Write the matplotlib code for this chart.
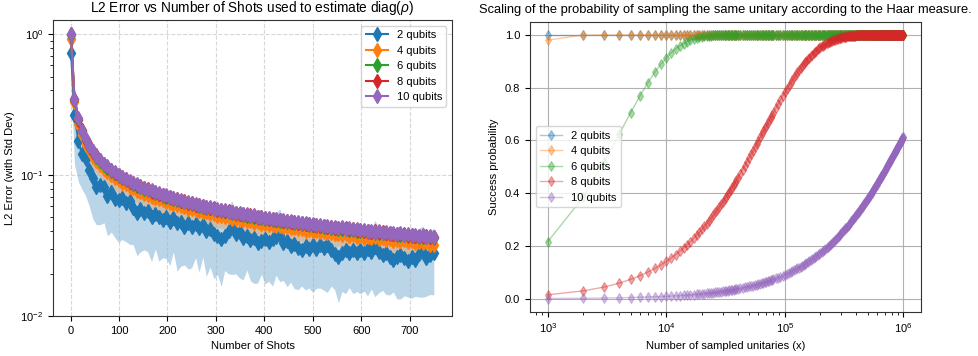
import numpy as np
import matplotlib.pyplot as plt

plt.rcParams['font.family'] = ['Liberation Sans', 'DejaVu Sans']
plt.rcParams['mathtext.fontset'] = 'custom'
plt.rcParams['mathtext.rm'] = 'Liberation Sans'
plt.rcParams['mathtext.it'] = 'Liberation Sans:italic'
plt.rcParams['font.size'] = 8

# ---- left panel: L2 error vs number of shots ----
shots = [1, 8, 16, 23, 31, 38, 46, 53, 61, 69,
         76, 84, 91, 99, 106, 114, 122, 129, 137, 144,
         152, 159, 167, 175, 182, 190, 197, 205, 212, 220,
         227, 235, 243, 250, 258, 265, 273, 280, 288, 296,
         303, 311, 318, 326, 333, 341, 349, 356, 364, 371,
         379, 386, 394, 401, 409, 417, 424, 432, 439, 447,
         454, 462, 470, 477, 485, 492, 500, 507, 515, 523,
         530, 538, 545, 553, 560, 568, 575, 583, 591, 598,
         606, 613, 621, 628, 636, 644, 651, 659, 666, 674,
         681, 689, 697, 704, 712, 719, 727, 734, 742, 750]

err_2q = [0.730, 0.2687, 0.1750, 0.1418, 0.1293, 0.1087, 0.0958, 0.0824, 0.0845, 0.0819,
          0.0711, 0.0764, 0.0671, 0.0663, 0.0689, 0.0637, 0.0652, 0.0581, 0.0538, 0.0575,
          0.0535, 0.0555, 0.0503, 0.0529, 0.0504, 0.0479, 0.0506, 0.0468, 0.0495, 0.0458,
          0.0465, 0.0430, 0.0455, 0.0430, 0.0449, 0.0424, 0.0442, 0.0401, 0.0412, 0.0383,
          0.0367, 0.0352, 0.0370, 0.0399, 0.0427, 0.0379, 0.0396, 0.0360, 0.0372, 0.0348,
          0.0360, 0.0331, 0.0338, 0.0349, 0.0336, 0.0353, 0.0365, 0.0375, 0.0329, 0.0341,
          0.0314, 0.0326, 0.0304, 0.0293, 0.0313, 0.0298, 0.0317, 0.0297, 0.0318, 0.0302,
          0.0317, 0.0293, 0.0274, 0.0264, 0.0279, 0.0294, 0.0279, 0.0294, 0.0279, 0.0294,
          0.0280, 0.0299, 0.0285, 0.0307, 0.0286, 0.0272, 0.0282, 0.0261, 0.0248, 0.0262,
          0.0272, 0.0259, 0.0246, 0.0264, 0.0248, 0.0276, 0.0286, 0.0258, 0.0272, 0.0281]
std_2q = [0.300, 0.150, 0.085, 0.062, 0.058, 0.048, 0.047, 0.038, 0.040, 0.036,
          0.034, 0.037, 0.031, 0.033, 0.034, 0.030, 0.033, 0.026, 0.027, 0.029,
          0.024, 0.027, 0.026, 0.023, 0.026, 0.022, 0.025, 0.024, 0.021, 0.025,
          0.024, 0.020, 0.024, 0.021, 0.019, 0.022, 0.018, 0.021, 0.019, 0.020,
          0.017, 0.019, 0.016, 0.020, 0.023, 0.018, 0.021, 0.018, 0.016, 0.017,
          0.019, 0.016, 0.014, 0.018, 0.016, 0.019, 0.017, 0.020, 0.015, 0.018,
          0.014, 0.017, 0.015, 0.013, 0.016, 0.014, 0.017, 0.014, 0.016, 0.015,
          0.017, 0.013, 0.012, 0.014, 0.013, 0.015, 0.012, 0.015, 0.013, 0.015,
          0.013, 0.016, 0.013, 0.017, 0.014, 0.012, 0.014, 0.012, 0.010, 0.013,
          0.014, 0.012, 0.011, 0.013, 0.011, 0.014, 0.015, 0.012, 0.013, 0.014]

err_4q = [0.917, 0.3280, 0.2320, 0.1920, 0.1640, 0.1500, 0.1350, 0.1265, 0.1170, 0.1110,
          0.1045, 0.1002, 0.0958, 0.0918, 0.0884, 0.0860, 0.0822, 0.0805, 0.0776, 0.0762,
          0.0737, 0.0726, 0.0702, 0.0690, 0.0671, 0.0662, 0.0644, 0.0637, 0.0620, 0.0614,
          0.0599, 0.0594, 0.0578, 0.0575, 0.0561, 0.0558, 0.0544, 0.0543, 0.0529, 0.0528,
          0.0515, 0.0514, 0.0503, 0.0502, 0.0491, 0.0491, 0.0480, 0.0480, 0.0469, 0.0470,
          0.0460, 0.0461, 0.0451, 0.0452, 0.0441, 0.0444, 0.0434, 0.0436, 0.0425, 0.0428,
          0.0418, 0.0421, 0.0411, 0.0414, 0.0404, 0.0408, 0.0398, 0.0402, 0.0392, 0.0395,
          0.0386, 0.0390, 0.0380, 0.0384, 0.0376, 0.0380, 0.0370, 0.0374, 0.0365, 0.0370,
          0.0360, 0.0365, 0.0356, 0.0361, 0.0352, 0.0356, 0.0347, 0.0353, 0.0343, 0.0348,
          0.0339, 0.0344, 0.0335, 0.0341, 0.0331, 0.0337, 0.0328, 0.0334, 0.0321, 0.0319]
std_4q = [0.150, 0.062, 0.042, 0.035, 0.030, 0.027, 0.025, 0.023, 0.021, 0.020,
          0.019, 0.018, 0.017, 0.017, 0.016, 0.015, 0.015, 0.014, 0.014, 0.014,
          0.0130, 0.0130, 0.0125, 0.0124, 0.0120, 0.0119, 0.0115, 0.0114, 0.0111, 0.0110,
          0.0108, 0.0107, 0.0104, 0.0103, 0.0101, 0.0100, 0.0098, 0.0098, 0.0095, 0.0095,
          0.0093, 0.0093, 0.0090, 0.0090, 0.0088, 0.0088, 0.0086, 0.0086, 0.0084, 0.0085,
          0.0083, 0.0083, 0.0081, 0.0081, 0.0079, 0.0080, 0.0078, 0.0078, 0.0077, 0.0077,
          0.0075, 0.0076, 0.0074, 0.0075, 0.0073, 0.0073, 0.0072, 0.0072, 0.0071, 0.0071,
          0.0070, 0.0070, 0.0068, 0.0069, 0.0068, 0.0068, 0.0067, 0.0067, 0.0066, 0.0067,
          0.0065, 0.0066, 0.0064, 0.0065, 0.0063, 0.0064, 0.0062, 0.0064, 0.0062, 0.0063,
          0.0061, 0.0062, 0.0060, 0.0061, 0.0060, 0.0061, 0.0059, 0.0060, 0.0058, 0.0057]

err_6q = [0.985, 0.3420, 0.2460, 0.2040, 0.1770, 0.1590, 0.1450, 0.1350, 0.1262, 0.1180,
          0.1128, 0.1071, 0.1031, 0.0986, 0.0955, 0.0920, 0.0890, 0.0864, 0.0840, 0.0817,
          0.0798, 0.0778, 0.0762, 0.0741, 0.0729, 0.0711, 0.0701, 0.0684, 0.0676, 0.0661,
          0.0653, 0.0639, 0.0631, 0.0620, 0.0613, 0.0602, 0.0595, 0.0586, 0.0579, 0.0570,
          0.0565, 0.0556, 0.0552, 0.0543, 0.0539, 0.0531, 0.0527, 0.0520, 0.0516, 0.0509,
          0.0506, 0.0499, 0.0496, 0.0489, 0.0486, 0.0480, 0.0478, 0.0472, 0.0469, 0.0464,
          0.0461, 0.0456, 0.0454, 0.0449, 0.0447, 0.0442, 0.0440, 0.0435, 0.0434, 0.0428,
          0.0427, 0.0422, 0.0421, 0.0417, 0.0416, 0.0412, 0.0410, 0.0406, 0.0404, 0.0401,
          0.0399, 0.0396, 0.0394, 0.0391, 0.0390, 0.0386, 0.0385, 0.0382, 0.0381, 0.0377,
          0.0376, 0.0373, 0.0372, 0.0369, 0.0368, 0.0366, 0.0364, 0.0362, 0.0361, 0.0358]
std_6q = [0.100, 0.036, 0.025, 0.021, 0.018, 0.016, 0.015, 0.014, 0.013, 0.012,
          0.0115, 0.0110, 0.0105, 0.0100, 0.0097, 0.0094, 0.0091, 0.0088, 0.0086, 0.0083,
          0.0081, 0.0079, 0.0077, 0.0076, 0.0074, 0.0073, 0.0071, 0.0070, 0.0069, 0.0067,
          0.0066, 0.0065, 0.0064, 0.0063, 0.0062, 0.0061, 0.0060, 0.0060, 0.0059, 0.0058,
          0.0057, 0.0057, 0.0056, 0.0055, 0.0055, 0.0054, 0.0054, 0.0053, 0.0052, 0.0052,
          0.0051, 0.0051, 0.0050, 0.0050, 0.0049, 0.0049, 0.0049, 0.0048, 0.0048, 0.0047,
          0.0047, 0.0046, 0.0046, 0.0046, 0.0045, 0.0045, 0.0045, 0.0044, 0.0044, 0.0044,
          0.0043, 0.0043, 0.0043, 0.0042, 0.0042, 0.0042, 0.0042, 0.0041, 0.0041, 0.0041,
          0.0041, 0.0040, 0.0040, 0.0040, 0.0040, 0.0039, 0.0039, 0.0039, 0.0039, 0.0038,
          0.0038, 0.0038, 0.0038, 0.0038, 0.0037, 0.0037, 0.0037, 0.0037, 0.0037, 0.0036]

err_8q = [0.998, 0.3470, 0.2490, 0.2090, 0.1785, 0.1625, 0.1465, 0.1378, 0.1272, 0.1205,
          0.1138, 0.1093, 0.1040, 0.1004, 0.0965, 0.0938, 0.0899, 0.0881, 0.0848, 0.0833,
          0.0805, 0.0792, 0.0768, 0.0756, 0.0735, 0.0725, 0.0707, 0.0697, 0.0682, 0.0673,
          0.0659, 0.0651, 0.0636, 0.0631, 0.0618, 0.0613, 0.0600, 0.0597, 0.0585, 0.0580,
          0.0569, 0.0566, 0.0556, 0.0553, 0.0544, 0.0541, 0.0531, 0.0529, 0.0520, 0.0518,
          0.0510, 0.0508, 0.0500, 0.0498, 0.0490, 0.0489, 0.0482, 0.0480, 0.0473, 0.0472,
          0.0465, 0.0464, 0.0457, 0.0457, 0.0450, 0.0450, 0.0443, 0.0443, 0.0437, 0.0436,
          0.0430, 0.0430, 0.0424, 0.0424, 0.0419, 0.0419, 0.0413, 0.0413, 0.0407, 0.0408,
          0.0402, 0.0403, 0.0397, 0.0398, 0.0393, 0.0393, 0.0388, 0.0389, 0.0383, 0.0384,
          0.0379, 0.0380, 0.0375, 0.0376, 0.0371, 0.0372, 0.0367, 0.0368, 0.0363, 0.0364]
std_8q = [0.050, 0.021, 0.015, 0.0125, 0.0110, 0.0097, 0.0088, 0.0082, 0.0077, 0.0072,
          0.0068, 0.0065, 0.0063, 0.0060, 0.0058, 0.0056, 0.0054, 0.0053, 0.0051, 0.0050,
          0.0049, 0.0048, 0.0046, 0.0045, 0.0044, 0.0044, 0.0043, 0.0042, 0.0041, 0.0040,
          0.0040, 0.0039, 0.0038, 0.0038, 0.0037, 0.0037, 0.0036, 0.0036, 0.0035, 0.0035,
          0.0034, 0.0034, 0.0033, 0.0033, 0.0033, 0.0032, 0.0032, 0.0032, 0.0031, 0.0031,
          0.0031, 0.0030, 0.0030, 0.0030, 0.0029, 0.0029, 0.0029, 0.0029, 0.0028, 0.0028,
          0.0028, 0.0028, 0.0027, 0.0027, 0.0027, 0.0027, 0.0027, 0.0027, 0.0026, 0.0026,
          0.0026, 0.0026, 0.0025, 0.0025, 0.0025, 0.0025, 0.0025, 0.0025, 0.0024, 0.0024,
          0.0024, 0.0024, 0.0024, 0.0024, 0.0024, 0.0024, 0.0023, 0.0023, 0.0023, 0.0023,
          0.0023, 0.0023, 0.0022, 0.0022, 0.0022, 0.0022, 0.0022, 0.0022, 0.0022, 0.0022]

err_10q = [1.000, 0.3450, 0.2540, 0.2070, 0.1810, 0.1615, 0.1480, 0.1368, 0.1288, 0.1198,
           0.1152, 0.1086, 0.1052, 0.1001, 0.0975, 0.0933, 0.0909, 0.0876, 0.0858, 0.0829,
           0.0815, 0.0789, 0.0777, 0.0752, 0.0745, 0.0722, 0.0716, 0.0695, 0.0690, 0.0671,
           0.0667, 0.0649, 0.0644, 0.0629, 0.0626, 0.0611, 0.0608, 0.0595, 0.0592, 0.0578,
           0.0577, 0.0564, 0.0564, 0.0551, 0.0551, 0.0539, 0.0538, 0.0527, 0.0527, 0.0516,
           0.0517, 0.0506, 0.0507, 0.0496, 0.0497, 0.0487, 0.0489, 0.0478, 0.0480, 0.0470,
           0.0472, 0.0462, 0.0464, 0.0455, 0.0457, 0.0448, 0.0450, 0.0441, 0.0444, 0.0434,
           0.0437, 0.0428, 0.0431, 0.0422, 0.0426, 0.0417, 0.0420, 0.0411, 0.0414, 0.0406,
           0.0409, 0.0401, 0.0404, 0.0396, 0.0400, 0.0391, 0.0395, 0.0387, 0.0390, 0.0382,
           0.0386, 0.0378, 0.0382, 0.0374, 0.0378, 0.0370, 0.0374, 0.0366, 0.0370, 0.0363]
std_10q = [0.020, 0.010, 0.0076, 0.0062, 0.0054, 0.0049, 0.0044, 0.0041, 0.0038, 0.0036,
           0.0034, 0.0033, 0.0031, 0.0030, 0.0029, 0.0028, 0.0027, 0.0026, 0.0026, 0.0025,
           0.0024, 0.0024, 0.0023, 0.0023, 0.0022, 0.0022, 0.0021, 0.0021, 0.0021, 0.0020,
           0.0020, 0.0020, 0.0019, 0.0019, 0.0019, 0.0018, 0.0018, 0.0018, 0.0018, 0.0017,
           0.0017, 0.0017, 0.0017, 0.0017, 0.0016, 0.0016, 0.0016, 0.0016, 0.0016, 0.0016,
           0.0015, 0.0015, 0.0015, 0.0015, 0.0015, 0.0015, 0.0015, 0.0014, 0.0014, 0.0014,
           0.0014, 0.0014, 0.0014, 0.0014, 0.0014, 0.0014, 0.0013, 0.0013, 0.0013, 0.0013,
           0.0013, 0.0013, 0.0013, 0.0013, 0.0013, 0.0013, 0.0012, 0.0012, 0.0012, 0.0012,
           0.0012, 0.0012, 0.0012, 0.0012, 0.0012, 0.0012, 0.0012, 0.0012, 0.0012, 0.0011,
           0.0011, 0.0011, 0.0011, 0.0011, 0.0011, 0.0011, 0.0011, 0.0011, 0.0011, 0.0011]

# ---- right panel: probability of sampling the same unitary ----
# number of sampled unitaries, in thousands
sampled_k = (list(range(1, 41)) + list(range(42, 81, 2)) + list(range(84, 161, 4))
             + list(range(165, 301, 5)) + list(range(305, 1001, 5)))
n_pts = len(sampled_k)

prob_2q = [1.0] * n_pts
prob_4q = [0.980, 0.9996] + [1.0] * (n_pts - 2)
prob_6q = [0.2166, 0.3863, 0.5192, 0.6234, 0.7050, 0.7689, 0.8190, 0.8582, 0.8889, 0.9130,
           0.9318, 0.9466, 0.9582, 0.9672, 0.9743, 0.9799, 0.9842, 0.9877, 0.9903, 0.9924,
           0.9941, 0.9954, 0.9964, 0.9971, 0.9978, 0.9983, 0.9986, 0.9989, 0.9992, 0.9993,
           0.9995, 0.9996, 0.9997, 0.9998, 0.9998, 0.9998, 0.9999, 0.9999, 0.9999, 0.9999] \
    + [1.0] * (n_pts - 40)
prob_8q = [0.0151, 0.0301, 0.0447, 0.0592, 0.0735, 0.0875, 0.1013, 0.1149, 0.1283, 0.1415,
           0.1545, 0.1673, 0.1799, 0.1923, 0.2046, 0.2166, 0.2285, 0.2402, 0.2517, 0.2630,
           0.2742, 0.2852, 0.2960, 0.3066, 0.3171, 0.3275, 0.3377, 0.3477, 0.3576, 0.3673,
           0.3769, 0.3863, 0.3956, 0.4048, 0.4138, 0.4226, 0.4314, 0.4400, 0.4485, 0.4568,
           0.4732, 0.4890, 0.5044, 0.5192, 0.5337, 0.5477, 0.5613, 0.5745, 0.5873, 0.5997,
           0.6117, 0.6234, 0.6347, 0.6457, 0.6563, 0.6667, 0.6767, 0.6864, 0.6958, 0.7050,
           0.7224, 0.7389, 0.7543, 0.7689, 0.7826, 0.7954, 0.8076, 0.8189, 0.8297, 0.8398,
           0.8492, 0.8582, 0.8666, 0.8745, 0.8819, 0.8889, 0.8955, 0.9017, 0.9075, 0.9130,
           0.9194, 0.9253, 0.9308, 0.9359, 0.9406, 0.9449, 0.9490, 0.9527, 0.9562, 0.9594,
           0.9624, 0.9652, 0.9677, 0.9701, 0.9723, 0.9743, 0.9762, 0.9780, 0.9796, 0.9811,
           0.9825, 0.9838, 0.9849, 0.9861, 0.9871, 0.9880, 0.9889, 0.9897,
           0.9905, 0.9912, 0.9918, 0.9924, 0.9930, 0.9935, 0.9940, 0.9944, 0.9948, 0.9952,
           0.9956, 0.9959, 0.9962, 0.9965, 0.9967, 0.9970, 0.9972, 0.9974, 0.9976, 0.9978,
           0.9979, 0.9981, 0.9982, 0.9984, 0.9985, 0.9986, 0.9987, 0.9988, 0.9989, 0.9990,
           0.9990, 0.9991, 0.9992, 0.9992, 0.9993, 0.9993, 0.9994, 0.9994, 0.9995, 0.9995,
           0.9995, 0.9996, 0.9996, 0.9996, 0.9997, 0.9997, 0.9997, 0.9997, 0.9998, 0.9998,
           0.9998, 0.9998, 0.9998, 0.9998, 0.9999, 0.9999, 0.9999, 0.9999, 0.9999, 0.9999] \
    + [1.0] * 80
prob_10q = [0.0010, 0.0019, 0.0029, 0.0038, 0.0048, 0.0057, 0.0067, 0.0076, 0.0085, 0.0095,
            0.0104, 0.0114, 0.0123, 0.0133, 0.0142, 0.0151, 0.0161, 0.0170, 0.0180, 0.0189,
            0.0198, 0.0208, 0.0217, 0.0226, 0.0236, 0.0245, 0.0254, 0.0264, 0.0273, 0.0282,
            0.0291, 0.0301, 0.0310, 0.0319, 0.0328, 0.0337, 0.0347, 0.0356, 0.0365, 0.0374,
            0.0393, 0.0411, 0.0429, 0.0447, 0.0466, 0.0484, 0.0502, 0.0520, 0.0538, 0.0556,
            0.0574, 0.0592, 0.0610, 0.0628, 0.0646, 0.0664, 0.0681, 0.0699, 0.0717, 0.0735,
            0.0770, 0.0805, 0.0840, 0.0875, 0.0910, 0.0944, 0.0979, 0.1013, 0.1047, 0.1081,
            0.1115, 0.1149, 0.1183, 0.1216, 0.1250, 0.1283, 0.1316, 0.1349, 0.1382, 0.1415,
            0.1456, 0.1497, 0.1537, 0.1577, 0.1617, 0.1657, 0.1697, 0.1736, 0.1776, 0.1815,
            0.1854, 0.1893, 0.1931, 0.1970, 0.2008, 0.2046, 0.2084, 0.2121, 0.2159, 0.2196,
            0.2233, 0.2270, 0.2307, 0.2344, 0.2380, 0.2416, 0.2452, 0.2488,
            0.2524, 0.2560, 0.2595, 0.2630, 0.2665, 0.2700, 0.2735, 0.2769, 0.2804, 0.2838,
            0.2872, 0.2906, 0.2940, 0.2973, 0.3007, 0.3040, 0.3073, 0.3106, 0.3139, 0.3172,
            0.3204, 0.3236, 0.3269, 0.3301, 0.3332, 0.3364, 0.3396, 0.3427, 0.3458, 0.3490,
            0.3521, 0.3551, 0.3582, 0.3613, 0.3643, 0.3673, 0.3703, 0.3733, 0.3763, 0.3793,
            0.3822, 0.3852, 0.3881, 0.3910, 0.3939, 0.3968, 0.3996, 0.4025, 0.4053, 0.4082,
            0.4110, 0.4138, 0.4166, 0.4194, 0.4221, 0.4249, 0.4276, 0.4303, 0.4330, 0.4357,
            0.4384, 0.4411, 0.4438, 0.4464, 0.4490, 0.4517, 0.4543, 0.4569, 0.4594, 0.4620,
            0.4646, 0.4671, 0.4697, 0.4722, 0.4747, 0.4772, 0.4797, 0.4821, 0.4846, 0.4871,
            0.4895, 0.4919, 0.4943, 0.4968, 0.4991, 0.5015, 0.5039, 0.5063, 0.5086, 0.5109,
            0.5133, 0.5156, 0.5179, 0.5202, 0.5225, 0.5247, 0.5270, 0.5293, 0.5315, 0.5337,
            0.5359, 0.5381, 0.5403, 0.5425, 0.5447, 0.5469, 0.5490, 0.5512, 0.5533, 0.5554,
            0.5575, 0.5597, 0.5617, 0.5638, 0.5659, 0.5680, 0.5700, 0.5721, 0.5741, 0.5761,
            0.5782, 0.5802, 0.5822, 0.5841, 0.5861, 0.5881, 0.5901, 0.5920, 0.5939, 0.5959,
            0.5978, 0.5997, 0.6016, 0.6035, 0.6054, 0.6073, 0.6091, 0.6110, 0.6129, 0.6147]

labels = ['2 qubits', '4 qubits', '6 qubits', '8 qubits', '10 qubits']

fig = plt.figure(figsize=(9.79, 3.56), dpi=100)
ax1 = fig.add_axes([0.0541, 0.1124, 0.4076, 0.8315])
ax2 = fig.add_axes([0.5414, 0.1244, 0.3994, 0.8146])

x = np.array(shots)
means = [err_2q, err_4q, err_6q, err_8q, err_10q]
stds = [std_2q, std_4q, std_6q, std_8q, std_10q]
for m, s, lab in zip(means, stds, labels):
    m = np.array(m)
    s = np.array(s)
    line, = ax1.plot(x, m, marker='d', markersize=7, linewidth=1.5, label=lab)
    ax1.fill_between(x, m - s, m + s, color=line.get_color(), alpha=0.3, linewidth=0)

ax1.set_yscale('log')
ax1.set_ylim(1e-2, 1.26)
ax1.set_xticks(range(0, 800, 100))
ax1.set_xlabel('Number of Shots')
ax1.set_ylabel('L2 Error (with Std Dev)')
ax1.set_title(r'L2 Error vs Number of Shots used to estimate diag($\rho$)', fontsize=9.8)
ax1.grid(True, linestyle='--', alpha=0.5)
ax1.legend(loc='upper right', fontsize=8)

xs = np.array(sampled_k) * 1000
for p, lab in zip([prob_2q, prob_4q, prob_6q, prob_8q, prob_10q], labels):
    ax2.plot(xs, p, marker='d', markersize=5, markeredgewidth=0.8,
             linewidth=1, alpha=0.4, label=lab)

ax2.set_xscale('log')
ax2.set_xlabel('Number of sampled unitaries (x)')
ax2.set_ylabel('Success probability')
ax2.set_title('Scaling of the probability of sampling the same unitary according to the Haar measure.',
              fontsize=9.3)
ax2.grid(True)
ax2.legend(loc='center left', fontsize=8)

for ax in (ax1, ax2):
    for sp in ax.spines.values():
        sp.set_color('#333333')

fig.savefig('out.png', dpi=100)
